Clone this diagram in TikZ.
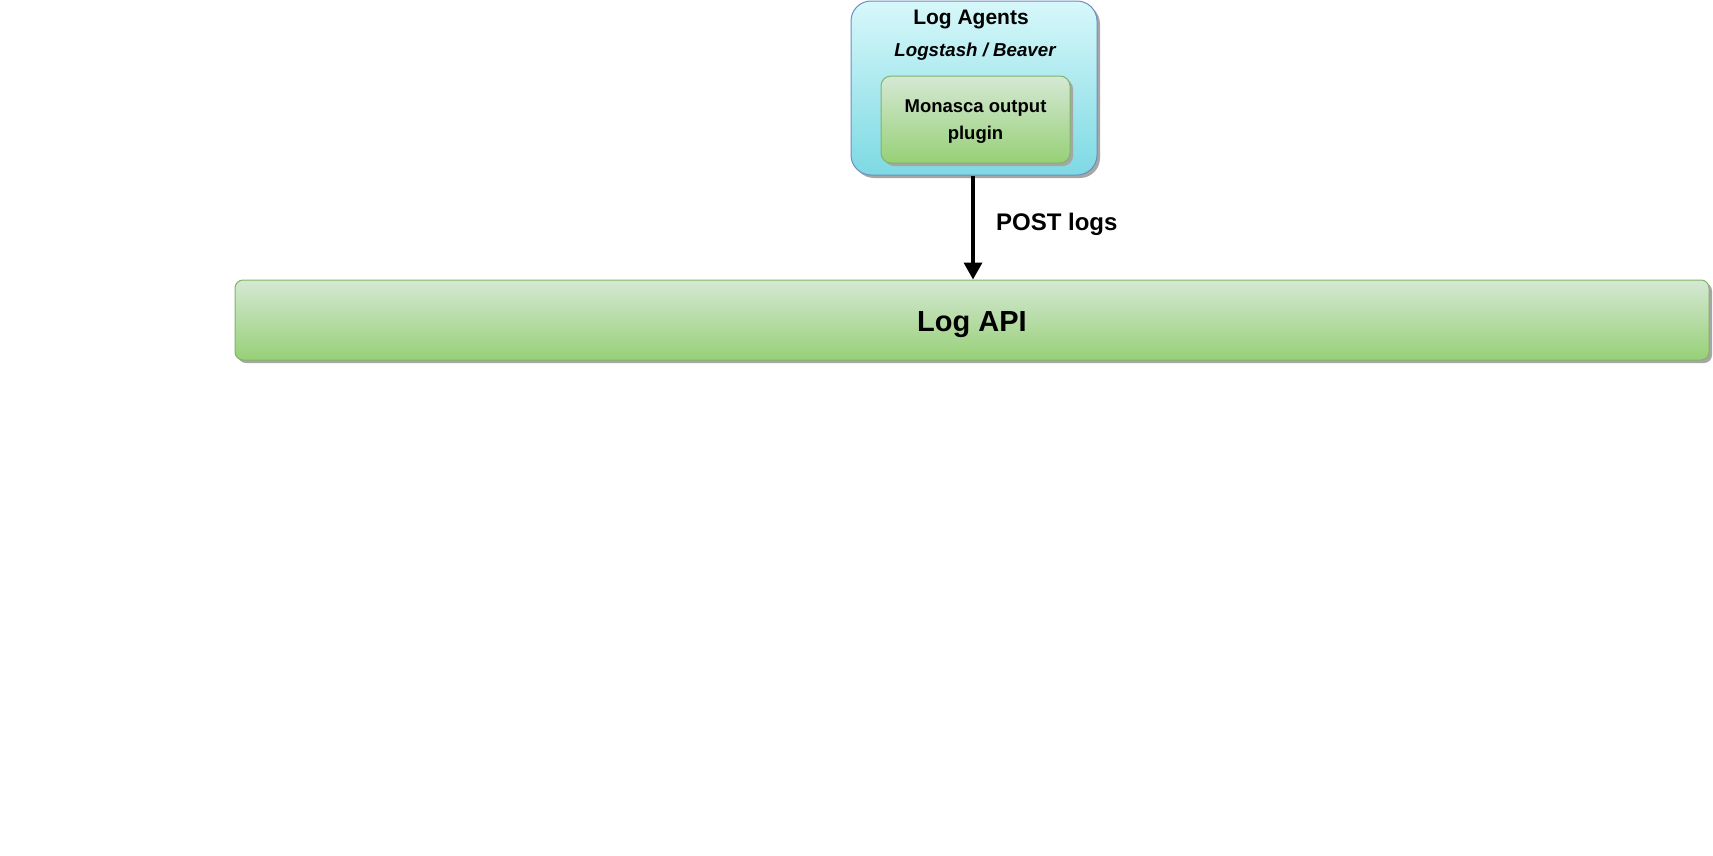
\documentclass[tikz,border=0pt]{standalone}
\usepackage{fontspec}
\setmainfont{Liberation Sans}
\usetikzlibrary{arrows.meta,shadows}
\definecolor{agenttop}{RGB}{215,248,250}
\definecolor{agentbot}{RGB}{125,217,227}
\definecolor{agentline}{RGB}{108,142,191}
\definecolor{greentop}{RGB}{213,232,212}
\definecolor{greenbot}{RGB}{151,208,119}
\definecolor{greenline}{RGB}{130,179,102}
\tikzset{
  boxshadow/.style={drop shadow={shadow xshift=3pt,shadow yshift=-3pt,fill=black!35,opacity=1}},
  agentbox/.style={draw=agentline,line width=1pt,top color=agenttop,bottom color=agentbot,rounded corners=20pt,boxshadow},
  greenbox/.style={draw=greenline,line width=1pt,top color=greentop,bottom color=greenbot,boxshadow},
}
\begin{document}
\begin{tikzpicture}[x=1pt,y=-1pt]
			%%%%% START %%%%%
			\useasboundingbox[fill=white] (0,0) rectangle (1713,855);
			
			\node[agentbox, minimum width=246pt, minimum height=174pt] (agents) at (974,88) {};
			\node[font=\fontsize{21}{24}\selectfont\bfseries] (agentstitle) at (971,19) {Log Agents};
			\node[font=\fontsize{18.7}{22}\selectfont\bfseries\itshape] (agentsub) at (975,52) {Logstash / Beaver};
			
			\node[greenbox, rounded corners=10pt, minimum width=189pt, minimum height=87pt] (plugin) at (975.5,119.5) {};
			\node[align=center, font=\fontsize{18.5}{27}\selectfont\bfseries] (pluginlabel) at (975.5,122) {Monasca output\\plugin};
			
			\node[greenbox, rounded corners=8pt, minimum width=1474pt, minimum height=80pt] (api) at (972,320) {};
			\node[font=\fontsize{29}{34}\selectfont\bfseries] (apilabel) at (972,325) {Log API};
			
			\draw[line width=3.5pt, -{Triangle[length=17pt,width=18pt]}] (agents.south -| 973,0) -- (api.north -| 973,0)
			      node[midway, right=18pt, yshift=3pt, font=\fontsize{24}{28}\selectfont\bfseries] (postlabel) {POST logs};
			
			%%%%% END %%%%%
		\end{tikzpicture}
\end{document}
